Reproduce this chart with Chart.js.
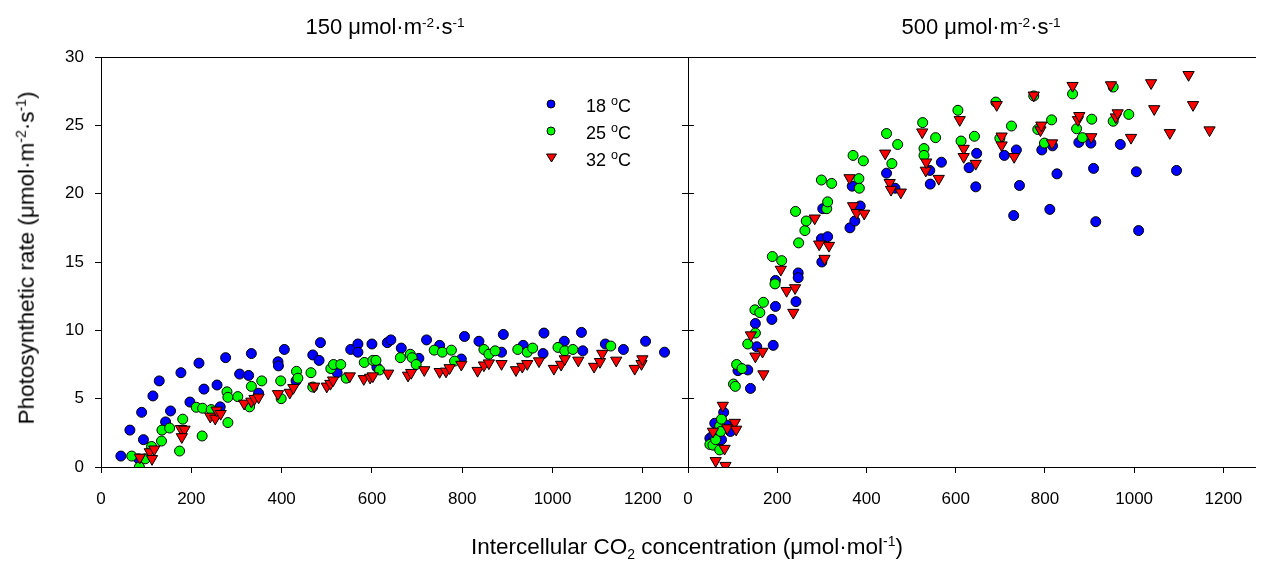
<!DOCTYPE html>
<html>
<head>
<meta charset="utf-8">
<script src="https://cdn.jsdelivr.net/npm/chart.js@4.4.1/dist/chart.umd.min.js"></script>
<style>
  html, body { margin: 0; padding: 0; background: #fff; overflow: hidden; }
  #wrap { position: relative; width: 1263px; height: 562px; font-family: 'Liberation Sans', Arial, sans-serif; color: #000; }
  #wrap canvas { position: absolute; left: 0; top: 0; }
  .lbl { position: absolute; white-space: nowrap; transform: translate(-50%, -50%); line-height: 1; }
  .lbl sup { font-size: 0.62em; vertical-align: 0.55em; line-height: 0; }
  .lbl sub { font-size: 0.62em; vertical-align: -0.35em; line-height: 0; }
  .ttl { font-size: 22px; }
  .axt { font-size: 22.5px; }
  .leg { position: absolute; font-size: 18px; line-height: 1; white-space: nowrap; }
  .leg sup { font-size: 0.7em; vertical-align: 0.55em; line-height: 0; }
  .mk { position: absolute; }
</style>
</head>
<body>
<div id="wrap">
  <canvas id="leftChart" width="1263" height="562"></canvas>
  <canvas id="rightChart" width="1263" height="562"></canvas>

  <div class="lbl ttl" style="left:385px; top:27px;">150 &mu;mol&middot;m<sup>-2</sup>&middot;s<sup>-1</sup></div>
  <div class="lbl ttl" style="left:981px; top:27px;">500 &mu;mol&middot;m<sup>-2</sup>&middot;s<sup>-1</sup></div>
  <div class="lbl axt" style="left:27px; top:258px; transform: translate(-50%, -50%) rotate(-90deg);">Photosynthetic rate (&mu;mol&middot;m<sup>-2</sup>&middot;s<sup>-1</sup>)</div>
  <div class="lbl axt" style="left:687px; top:547px;">Intercellular CO<sub>2</sub> concentration (&mu;mol&middot;mol<sup>-1</sup>)</div>

  <svg class="mk" style="left:546px; top:99px;" width="10" height="10"><circle cx="5" cy="5" r="4" fill="#0000ff" stroke="#000" stroke-width="1"/></svg>
  <div class="leg" style="left:586px; top:97px;">18 <sup>o</sup>C</div>
  <svg class="mk" style="left:546px; top:126px;" width="10" height="10"><circle cx="5" cy="5" r="4" fill="#00ff00" stroke="#000" stroke-width="1"/></svg>
  <div class="leg" style="left:586px; top:124px;">25 <sup>o</sup>C</div>
  <svg class="mk" style="left:546px; top:153px;" width="11" height="10"><polygon points="0.5,1 10.5,1 5.5,9" fill="#ff0000" stroke="#000" stroke-width="1"/></svg>
  <div class="leg" style="left:586px; top:151px;">32 <sup>o</sup>C</div>
</div>

<script>
// 150 umol m-2 s-1 panel
const low18x = [44, 64, 83, 90, 94, 115, 129, 143, 154, 177, 197, 217, 228, 257, 264, 276, 307, 327, 333, 349, 392, 393, 406, 432, 469, 483, 486, 523, 553, 569, 569, 600, 611, 634, 642, 665, 704, 721, 750, 798, 805, 837, 887, 891, 935, 979, 981, 1026, 1064, 1067, 1117, 1157, 1206, 1248];
const low18y = [0.8, 2.7, 0.6, 4.0, 2.0, 5.2, 6.3, 3.3, 4.1, 6.9, 4.75, 7.6, 5.7, 6.0, 4.4, 8.0, 6.8, 6.7, 8.3, 5.4, 7.7, 7.4, 8.6, 6.3, 8.2, 7.8, 9.1, 6.9, 8.6, 9.0, 8.4, 9.0, 7.3, 9.1, 9.3, 8.7, 7.95, 9.3, 8.9, 7.9, 9.55, 9.2, 8.4, 9.7, 8.9, 8.3, 9.8, 9.2, 9.85, 8.5, 9.0, 8.6, 9.2, 8.4];

const low25x = [68, 85, 98, 112, 134, 135, 152, 174, 181, 211, 224, 225, 244, 279, 281, 281, 303, 329, 333, 356, 398, 399, 433, 436, 465, 469, 509, 515, 531, 543, 583, 602, 609, 617, 663, 685, 689, 698, 738, 756, 776, 783, 848, 859, 873, 923, 944, 956, 1012, 1027, 1045, 1129];
const low25y = [0.8, 0.0, 0.6, 1.5, 1.9, 2.7, 2.85, 1.17, 3.5, 4.37, 2.27, 4.3, 4.2, 5.5, 5.1, 3.25, 5.15, 4.4, 5.9, 6.3, 6.3, 5.0, 7.0, 6.5, 6.9, 5.85, 7.2, 7.5, 7.5, 6.5, 7.65, 7.8, 7.8, 7.1, 8.0, 8.25, 8.0, 7.5, 8.55, 8.4, 8.55, 7.75, 8.6, 8.25, 8.5, 8.6, 8.4, 8.7, 8.75, 8.5, 8.6, 8.85];

const low32x = [86, 108, 113, 118, 177, 185, 179, 242, 253, 256, 265, 317, 333, 340, 349, 392, 418, 426, 472, 500, 508, 514, 551, 582, 596, 602, 636, 680, 687, 716, 750, 764, 772, 798, 834, 848, 859, 887, 919, 933, 944, 970, 1003, 1019, 1027, 1057, 1092, 1105, 1110, 1141, 1182, 1197, 1199];
const low32y = [0.7, 1.1, 0.6, 1.3, 2.8, 2.75, 2.2, 3.7, 3.55, 4.15, 3.9, 4.65, 4.8, 5.0, 5.1, 5.35, 5.45, 5.8, 5.9, 5.9, 6.1, 6.35, 6.65, 6.45, 6.55, 6.65, 6.85, 6.7, 6.9, 7.1, 6.97, 7.0, 7.25, 7.5, 7.05, 7.45, 7.6, 7.55, 7.1, 7.35, 7.55, 7.75, 7.2, 7.5, 7.9, 7.8, 7.35, 7.7, 8.3, 7.8, 7.2, 7.55, 7.9];

// 500 umol m-2 s-1 panel
const high18x = [49, 56, 60, 67, 75, 80, 86, 95, 112, 134, 140, 151, 154, 188, 191, 196, 196, 242, 247, 247, 299, 300, 302, 313, 363, 368, 374, 386, 445, 464, 542, 543, 568, 630, 645, 647, 709, 730, 736, 743, 793, 811, 817, 827, 876, 903, 909, 914, 969, 1005, 1010, 1095];
const high18y = [2.1, 2.3, 3.2, 1.6, 2.0, 4.0, 3.07, 2.6, 7.05, 7.1, 5.75, 10.5, 8.8, 10.8, 8.9, 11.75, 13.65, 12.1, 14.2, 13.85, 16.7, 15.0, 18.9, 16.85, 17.5, 20.55, 18.0, 19.1, 21.5, 20.4, 21.7, 20.7, 22.3, 21.9, 20.5, 22.95, 22.8, 18.4, 23.2, 20.6, 23.2, 18.85, 23.5, 21.45, 23.75, 23.7, 21.85, 17.95, 23.6, 21.6, 17.3, 21.7];

const high25x = [49, 56, 62, 71, 71, 73, 75, 102, 106, 109, 121, 134, 151, 150, 161, 169, 189, 195, 210, 241, 248, 262, 265, 299, 311, 313, 322, 370, 383, 384, 393, 445, 457, 470, 526, 529, 529, 555, 605, 612, 642, 690, 699, 725, 775, 784, 799, 815, 862, 871, 884, 905, 953, 953, 988];
const high25y = [1.65, 1.6, 2.0, 3.0, 1.25, 2.6, 3.5, 6.07, 5.9, 7.5, 7.2, 9.0, 9.8, 11.5, 11.3, 12.05, 15.4, 13.4, 15.1, 18.7, 16.4, 17.3, 18.0, 21.0, 18.9, 19.4, 20.75, 22.8, 21.1, 20.4, 22.4, 24.4, 22.2, 23.6, 25.2, 23.3, 22.8, 24.1, 26.1, 23.85, 24.2, 26.7, 24.05, 24.95, 27.15, 24.7, 23.7, 25.4, 27.3, 24.75, 24.1, 25.45, 27.8, 25.3, 25.8];

const high32x = [56, 62, 78, 82, 84, 88, 105, 108, 141, 151, 167, 169, 208, 221, 236, 240, 284, 294, 306, 316, 362, 370, 378, 395, 442, 452, 455, 477, 525, 533, 534, 562, 609, 618, 618, 645, 692, 703, 703, 731, 775, 790, 792, 816, 862, 874, 877, 904, 948, 959, 963, 993, 1038, 1045, 1080, 1122, 1132, 1169];
const high32y = [2.6, 0.45, 4.5, 1.35, 0.1, 2.85, 3.25, 2.75, 9.65, 8.1, 8.45, 6.8, 14.45, 12.9, 11.3, 13.1, 18.2, 16.3, 15.25, 16.2, 21.15, 19.1, 18.6, 18.55, 22.95, 20.8, 20.3, 20.1, 24.5, 21.7, 22.3, 21.1, 25.4, 23.3, 22.7, 22.2, 26.5, 24.2, 23.55, 22.7, 27.2, 24.65, 25.0, 23.7, 27.9, 25.4, 25.7, 24.15, 27.95, 25.6, 25.9, 24.1, 28.1, 26.2, 24.45, 28.7, 26.5, 24.65];

const xTickStep = 200;
const yTickStep = 5;

const colors = {
	blue: "#0000ff",
	green: "#00ff00",
	red: "#ff0000",
	edge: "#000000"
};

const tickFont = { family: "'Liberation Sans', Arial, sans-serif", size: 17 };

function toPoints(xs, ys) {
	return xs.map((x, i) => ({ x: x, y: ys[i] }));
}

function makeDatasets(bx, by, gx, gy, rx, ry) {
	const common = {
		showLine: false,
		pointBorderColor: colors.edge,
		pointBorderWidth: 1,
		pointHoverRadius: 5
	};
	return [
		Object.assign({ label: "18 °C", data: toPoints(bx, by), pointStyle: "circle", pointRadius: 5,
			pointBackgroundColor: colors.blue, order: 3 }, common),
		Object.assign({ label: "25 °C", data: toPoints(gx, gy), pointStyle: "circle", pointRadius: 5,
			pointBackgroundColor: colors.green, order: 2 }, common),
		Object.assign({ label: "32 °C", data: toPoints(rx, ry), pointStyle: "triangle", pointRadius: 6.5,
			pointRotation: 180, pointBackgroundColor: colors.red, order: 1 }, common)
	];
}

// axis line + outward tick marks, no grid inside the plot
function frameGrid() {
	return { drawOnChartArea: false, drawTicks: true, tickLength: 6, color: "#000", lineWidth: 1 };
}

// plain numbers, no thousands separator
function plainLabel(value) {
	return String(value);
}

function xAxis(max, showLabels) {
	return {
		type: "linear", position: "bottom", min: 0, max: max,
		afterFit: (s) => { s.height = 95; },
		ticks: { stepSize: xTickStep, includeBounds: false, maxRotation: 0, display: showLabels,
			color: "#000", font: tickFont, padding: 16, callback: plainLabel },
		grid: frameGrid(),
		border: { display: true, color: "#000", width: 1 }
	};
}

function yAxis(position, showLabels, width) {
	return {
		type: "linear", position: position, min: 0, max: 30,
		afterFit: (s) => { s.width = width; },
		ticks: { stepSize: yTickStep, display: showLabels, color: "#000", font: tickFont, padding: 11,
			callback: plainLabel },
		grid: frameGrid(),
		border: { display: true, color: "#000", width: 1 }
	};
}

function topBorder(max) {
	return {
		type: "linear", position: "top", min: 0, max: max,
		afterFit: (s) => { s.height = 0; },
		ticks: { display: false },
		grid: { display: false },
		border: { display: true, color: "#000", width: 1 }
	};
}

function makeChart(id, datasets, padding, scales) {
	const ctx = document.getElementById(id).getContext("2d");
	return new Chart(ctx, {
		type: "scatter",
		data: { datasets: datasets },
		options: {
			responsive: false,
			animation: false,
			devicePixelRatio: 1,
			layout: { padding: padding },
			plugins: {
				legend: { display: false },
				tooltip: { enabled: false },
				title: { display: false }
			},
			scales: scales
		}
	});
}

function setupCharts() {
	Chart.defaults.font.family = tickFont.family;

	makeChart("leftChart",
		makeDatasets(low18x, low18y, low25x, low25y, low32x, low32y),
		{ left: 0, right: 575, top: 57, bottom: 0 },
		{
			x: xAxis(1300, true),
			y: yAxis("left", true, 101),
			xTop: topBorder(1300),
			yRight: yAxis("right", false, 0)
		});

	makeChart("rightChart",
		makeDatasets(high18x, high18y, high25x, high25y, high32x, high32y),
		{ left: 688, right: 0, top: 57, bottom: 0 },
		{
			x: xAxis(1272, true),
			y: yAxis("left", false, 0),
			xTop: topBorder(1272)
		});
}

setupCharts();
</script>
</body>
</html>
